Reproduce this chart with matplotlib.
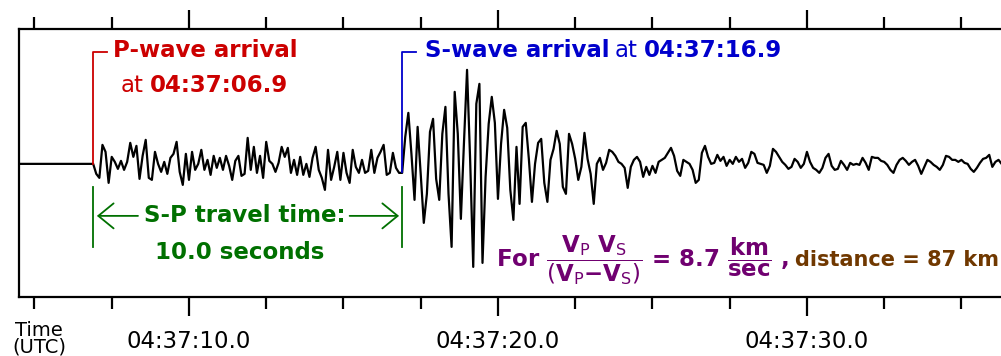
import matplotlib
matplotlib.use("Agg")
import matplotlib.pyplot as plt
import numpy as np
from matplotlib import font_manager
from matplotlib.ticker import FixedLocator, MultipleLocator

# seismogram samples (10 Hz), seconds after 04:37:00, relative amplitude
sample_rate = 10.0
trace_start = 4.5
pre_event = [0, 0, 0, 0, 0, 0, 0, 0, 0, 0, 0, 0,
             0, 0, 0, 0, 0, 0, 0, 0, 0, 0, 0, 0]
p_coda = [0, -10, -14, 19, 12, -19, 7, 2, -5, 3, -6, 2, 21, 7, 18, -15, 8, 24, -14, -16,
          12, 0, -8, 2, -10, 6, 10, 22, -8, -21, 10, -16, 12, -6, 0, 14, -6, 4, -11, 8,
          -4, 6, -6, 8, -2, -16, 3, 8, -12, -10, 26,
          -6, 17, -9, 8, -14, 22, 3, 0, -8, 1, 17, 7, 16, -9, 4, -11, 7, -11, 0, -13,
          6, 17, -6, -14, -26, 14, -16, -3, 12, -16, 11, -9, -19, 14, -3, -9, 4, -9, -7, 14,
          -9, 6, 12, 19, -11, -9, 11, -4, -9]
s_wave = [-9, 27, 51, 10, -36, 37, -10, -59, -30, 32, 45, -15, -36, 30, 57, -30, -83, 72, 30, -55,
          21, 94, 4, -103, 60, 80, -99, -13, 40, 67, 41, -35, 20, 54, 36, -26, -56, 17, -40, 37,
          41, 5, -38, 0, 21, 25, -19, -38, 4, 15, 33, 20, -23, -30, 30, 20, 5, -16, -3, 31,
          5, -10, -40, 0, 6, -6, 1, 14, 12, 8, 2, 0, -4, -24, -3, 4, 7, 2, -13, -3,
          -11, -2, -9, 2, 4, 6, 11, 16, 8, -7, -12]
s_coda = [4, 2, 0, -6, -19, -16, 11, 18, 7, 0, 1, 9, 3, 7, -2, 4, 0, 7, 2, 5,
          -4, 1, 12, 10, 1, 0, -1, -9, -2, 15, 12, 7, 2, -1, -5, -3, 5, 2, -4, 0,
          12, 2, -4, -6, -9, -4, 6, 10, -2, -6,
          -5, 3, -1, -6, 1, -1, 0, -1, 6, 1, -6, 7, 6, 6, 3, 2, -1, -6, -9, -1,
          4, 6, 3, -1, 2, 4, -2, -10, -3, 4, 2, -1, -3, -6, -1, 8, 7, 4, 4, 2,
          4, 1, 0, -5, -8, -4, 1, 5, 6, 9, -3, 2, 4, 0]

p_arrival = 6.9
s_arrival = 16.9
vp_vs_factor = 8.7
major_times = [10, 20, 30]
tick_labels = ["04:37:10.0", "04:37:20.0", "04:37:30.0"]

RED, BLUE, GREEN = "#cc0000", "#0000cc", "#007000"
PURPLE, BROWN = "#700070", "#703800"


def first_font(names):
    for n in names:
        try:
            font_manager.findfont(font_manager.FontProperties(family=n),
                                  fallback_to_default=False)
            return n
        except ValueError:
            continue
    return "DejaVu Sans"


font = first_font(["Liberation Sans Narrow", "DejaVu Sans"])
narrow = font != "DejaVu Sans"
big = 21 if narrow else 16.5
tick_size = 19 if narrow else 16.5

plt.rcParams["font.family"] = [font, "DejaVu Sans"]
plt.rcParams["mathtext.fontset"] = "custom"
plt.rcParams["mathtext.rm"] = font
plt.rcParams["mathtext.bf"] = font + ":bold"

amp = np.array(pre_event + p_coda + s_wave + s_coda, dtype=float)
t = trace_start + np.arange(len(amp)) / sample_rate

fig = plt.figure(figsize=(10.01, 3.56), dpi=100)
ax = fig.add_axes([0.019, 0.166, 0.9816, 0.753])
ax.plot(t, amp, color="black", lw=1.6, zorder=2)
ax.set_xlim(trace_start, t[-1])
ax.set_ylim(-133, 135)

ax.xaxis.set_major_locator(FixedLocator(major_times))
ax.set_xticklabels(tick_labels)
ax.xaxis.set_minor_locator(MultipleLocator(2.5))
ax.tick_params(axis="x", which="both", direction="out", top=True, width=1.6,
               labelsize=tick_size, pad=10)
ax.tick_params(axis="x", which="major", length=13.5)
ax.tick_params(axis="x", which="minor", length=8.5)
ax.tick_params(axis="y", left=False, labelleft=False)
ax.spines["right"].set_visible(False)
for s in ("left", "top", "bottom"):
    ax.spines[s].set_linewidth(1.6)

fig.text(0.039, 0.097, "Time\n(UTC)", ha="center", va="top", fontsize=14,
         linespacing=0.82, family="DejaVu Sans")

hook = 0.45
# P bracket
ax.plot([p_arrival, p_arrival, p_arrival + hook], [0, 112, 112], color=RED, lw=1.3, zorder=3)
ax.text(p_arrival + 0.65, 113, "P-wave arrival", color=RED, fontsize=big,
        fontweight="bold", va="center")
at1 = ax.text(p_arrival + 0.9, 78, "at", color=RED, fontsize=big, va="center")
ax.annotate("04:37:06.9", xy=(1, 0), xycoords=at1, xytext=(4, 0),
            textcoords="offset points", color=RED, fontsize=big, fontweight="bold",
            va="bottom")

# S bracket
ax.plot([s_arrival, s_arrival, s_arrival + hook], [-8, 112, 112], color=BLUE, lw=1.3, zorder=3)
ts = ax.text(s_arrival + 0.74, 113, "S-wave arrival", color=BLUE, fontsize=big,
             fontweight="bold", va="center")
at2 = ax.annotate("at", xy=(1, 0), xycoords=ts, xytext=(4, 0), textcoords="offset points",
                  color=BLUE, fontsize=big, va="bottom")
ax.annotate("04:37:16.9", xy=(1, 0), xycoords=at2, xytext=(4, 0),
            textcoords="offset points", color=BLUE, fontsize=big, fontweight="bold",
            va="bottom")

# S-P interval
for x in (p_arrival, s_arrival):
    ax.plot([x, x], [-23, -83], color=GREEN, lw=1.3, zorder=3)
mid = (p_arrival + s_arrival) / 2
ax.text(mid - 0.1, -52, "S-P travel time:", color=GREEN, fontsize=big, fontweight="bold",
        ha="center", va="center")
ax.text(mid - 0.25, -89, f"{s_arrival - p_arrival:.1f} seconds", color=GREEN, fontsize=big,
        fontweight="bold", ha="center", va="center")
arrow = dict(arrowstyle="->,head_length=0.55,head_width=0.45", color=GREEN, lw=1.3,
             mutation_scale=20, shrinkA=0, shrinkB=0)
ax.annotate("", xy=(p_arrival + 0.12, -52), xytext=(p_arrival + 1.45, -52), arrowprops=arrow)
ax.annotate("", xy=(s_arrival - 0.1, -52), xytext=(s_arrival - 1.7, -52), arrowprops=arrow)

# distance formula
ax.text(19.93, -102,
        r"For $\dfrac{\mathbf{V}_\mathrm{P}\ \mathbf{V}_\mathrm{S}}"
        r"{(\mathbf{V}_\mathrm{P}\mathbf{-}\mathbf{V}_\mathrm{S})}$"
        rf" = {vp_vs_factor} " r"$\dfrac{\mathbf{km}}{\mathbf{sec}}$ ,",
        color=PURPLE, fontsize=big, fontweight="bold", va="baseline")
distance = vp_vs_factor * (s_arrival - p_arrival)
ax.text(t[-1] - 0.08, -102, f"distance = {distance:.0f} km", color=BROWN, fontsize=15,
        fontweight="bold", va="baseline", ha="right")

fig.savefig("out.png", dpi=100)
